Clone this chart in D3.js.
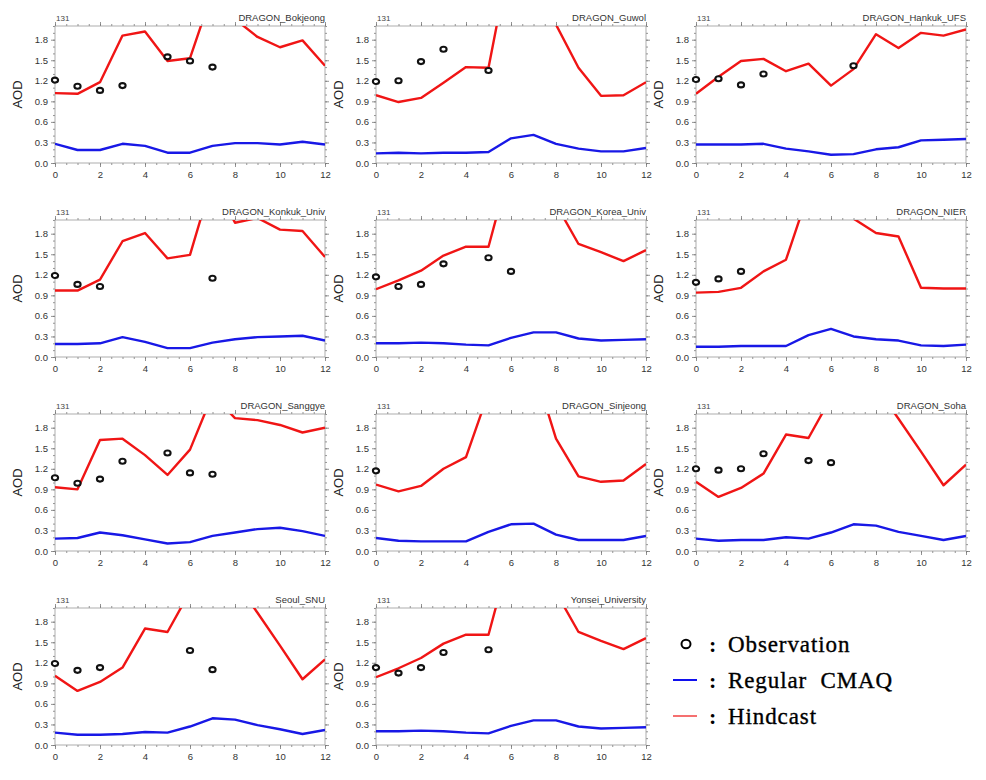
<!DOCTYPE html>
<html><head><meta charset="utf-8">
<script src="https://cdn.jsdelivr.net/npm/d3@7"></script>
<style>body{margin:0;background:#fff}svg{display:block}</style>
</head><body>
<svg id="chart" width="986" height="780"></svg>
<script>
const hours = [0,1,2,3,4,5,6,7,8,9,10,11,12];
const stations = ["DRAGON_Bokjeong","DRAGON_Guwol","DRAGON_Hankuk_UFS","DRAGON_Konkuk_Univ","DRAGON_Korea_Univ","DRAGON_NIER","DRAGON_Sanggye","DRAGON_Sinjeong","DRAGON_Soha","Seoul_SNU","Yonsei_University"];
const panelTag = "131";
const yTicks = [0.0,0.3,0.6,0.9,1.2,1.5,1.8];
const xTicks = [0,2,4,6,8,10,12];
const legendLabels = ["Observation","Regular  CMAQ","Hindcast"];

const observation = [
  [1.21,1.12,1.06,1.13,null,1.55,1.49,1.40,null,null,null,null,null],
  [1.19,1.20,1.48,1.66,null,1.35,null,null,null,null,null,null,null],
  [1.22,1.23,1.14,1.30,null,null,null,1.42,null,null,null,null,null],
  [1.19,1.06,1.03,null,null,null,null,1.15,null,null,null,null,null],
  [1.17,1.03,1.06,1.36,null,1.45,1.25,null,null,null,null,null,null],
  [1.09,1.14,1.25,null,null,null,null,null,null,null,null,null,null],
  [1.07,0.99,1.05,1.31,null,1.43,1.14,1.12,null,null,null,null,null],
  [1.17,null,null,null,null,null,null,null,null,null,null,null,null],
  [1.20,1.18,1.20,1.42,null,1.32,1.29,null,null,null,null,null,null],
  [1.19,1.09,1.13,null,null,null,1.38,1.10,null,null,null,null,null],
  [1.13,1.05,1.13,1.35,null,1.39,null,null,null,null,null,null,null]
];
const regularCMAQ = [
  [0.28,0.19,0.19,0.28,0.25,0.15,0.15,0.25,0.29,0.29,0.27,0.31,0.27],
  [0.14,0.15,0.14,0.15,0.15,0.16,0.36,0.41,0.28,0.21,0.17,0.17,0.22],
  [0.27,0.27,0.27,0.28,0.21,0.17,0.12,0.13,0.20,0.23,0.33,0.34,0.35],
  [0.19,0.19,0.20,0.29,0.22,0.13,0.13,0.21,0.26,0.29,0.30,0.31,0.24],
  [0.20,0.20,0.21,0.20,0.18,0.17,0.28,0.36,0.36,0.27,0.24,0.25,0.26],
  [0.15,0.15,0.16,0.16,0.16,0.32,0.41,0.30,0.26,0.24,0.17,0.16,0.18],
  [0.18,0.19,0.27,0.23,0.17,0.11,0.13,0.22,0.27,0.32,0.34,0.29,0.22],
  [0.19,0.15,0.14,0.14,0.14,0.28,0.39,0.40,0.24,0.16,0.16,0.16,0.22],
  [0.18,0.15,0.16,0.16,0.20,0.18,0.27,0.39,0.37,0.28,0.22,0.16,0.22],
  [0.18,0.15,0.15,0.16,0.19,0.18,0.27,0.39,0.37,0.29,0.23,0.16,0.22],
  [0.20,0.20,0.21,0.20,0.18,0.17,0.28,0.36,0.36,0.27,0.24,0.25,0.26]
];
const hindcast = [
  [1.02,1.01,1.18,1.86,1.92,1.49,1.53,2.50,2.10,1.84,1.69,1.79,1.42],
  [0.99,0.89,0.95,1.17,1.40,1.39,3.08,3.20,2.02,1.39,0.98,0.99,1.18],
  [1.01,1.26,1.49,1.52,1.34,1.45,1.13,1.37,1.88,1.68,1.90,1.86,1.95],
  [0.97,0.97,1.13,1.69,1.81,1.44,1.49,2.60,1.96,2.03,1.86,1.84,1.46],
  [0.99,1.12,1.26,1.48,1.61,1.61,2.83,3.00,2.23,1.65,1.53,1.40,1.56],
  [0.94,0.95,1.01,1.25,1.42,2.40,2.70,2.02,1.81,1.76,1.01,1.00,1.00],
  [0.93,0.90,1.62,1.64,1.40,1.11,1.48,2.28,1.94,1.91,1.84,1.73,1.80],
  [0.97,0.87,0.95,1.20,1.37,2.31,2.80,2.70,1.64,1.09,1.01,1.03,1.27],
  [1.01,0.79,0.92,1.13,1.70,1.65,2.24,2.60,2.40,1.93,1.45,0.96,1.26],
  [1.01,0.79,0.92,1.13,1.70,1.65,2.24,2.60,2.40,1.93,1.45,0.96,1.25],
  [0.99,1.12,1.27,1.48,1.61,1.61,2.83,3.00,2.23,1.65,1.52,1.40,1.56]
];

const svg = d3.select("#chart");
const colLeft = [55, 376, 696];
const rowTop = [26, 220, 414, 608];
const W = 270, H = 137;
const RED = "#f01515", BLUE = "#1818e6";
const sans = "'Liberation Sans', Arial, sans-serif";

const x = d3.scaleLinear().domain([0,12]).range([0,W]);
const y = d3.scaleLinear().domain([0,2.0]).range([H,0]);
const xMinor = d3.range(0,12.01,0.5);
const yMinor = d3.range(0,2.001,0.1).map(v=>+v.toFixed(2));

stations.forEach((name, i) => {
  const g = svg.append("g").attr("transform", `translate(${colLeft[i%3]},${rowTop[Math.floor(i/3)]})`);
  const clipId = "clip"+i;
  g.append("clipPath").attr("id", clipId).append("rect").attr("width", W).attr("height", H);

  const axB = d3.axisBottom(x).tickValues(xTicks).tickFormat(d3.format("d")).tickSizeInner(4).tickSizeOuter(0).tickPadding(4);
  const axBm = d3.axisBottom(x).tickValues(xMinor).tickFormat("").tickSizeInner(2).tickSizeOuter(0);
  const axT = d3.axisTop(x).tickValues(xTicks).tickFormat("").tickSizeInner(4).tickSizeOuter(0);
  const axTm = d3.axisTop(x).tickValues(xMinor).tickFormat("").tickSizeInner(2).tickSizeOuter(0);
  const axL = d3.axisLeft(y).tickValues(yTicks).tickFormat(d3.format(".1f")).tickSizeInner(4).tickSizeOuter(0).tickPadding(3);
  const axLm = d3.axisLeft(y).tickValues(yMinor).tickFormat("").tickSizeInner(2).tickSizeOuter(0);
  const axR = d3.axisRight(y).tickValues(yTicks).tickFormat("").tickSizeInner(4).tickSizeOuter(0);
  const axRm = d3.axisRight(y).tickValues(yMinor).tickFormat("").tickSizeInner(2).tickSizeOuter(0);

  const axes = [
    [axBm, `translate(0,${H})`],[axB, `translate(0,${H})`],
    [axTm, "translate(0,0)"],[axT, "translate(0,0)"],
    [axLm, "translate(0,0)"],[axL, "translate(0,0)"],
    [axRm, `translate(${W},0)`],[axR, `translate(${W},0)`]
  ];
  axes.forEach(([ax, tr]) => {
    const a = g.append("g").attr("transform", tr).call(ax);
    a.select(".domain").remove();
    a.selectAll("line").attr("stroke", "#777").attr("stroke-width", 0.8);
    a.selectAll("text").attr("fill", "#333").style("font-family", sans).style("font-size", "9.5px");
  });

  g.append("rect").attr("width", W).attr("height", H).attr("fill", "none").attr("stroke", "#999").attr("stroke-width", 0.8);

  const plot = g.append("g").attr("clip-path", `url(#${clipId})`);
  const line = d3.line().x((d,j)=>x(hours[j])).y(d=>y(d));

  plot.append("path").datum(regularCMAQ[i]).attr("d", line)
    .attr("fill","none").attr("stroke",BLUE).attr("stroke-width",2.4).attr("stroke-linejoin","round");
  plot.append("path").datum(hindcast[i]).attr("d", line)
    .attr("fill","none").attr("stroke",RED).attr("stroke-width",2.4).attr("stroke-linejoin","round");

  const obsPts = hours.map((h,j)=>({h, v: observation[i][j]})).filter(d=>d.v!==null);
  g.selectAll("ellipse.obs").data(obsPts).enter().append("ellipse").attr("class","obs")
    .attr("cx", d=>x(d.h)).attr("cy", d=>y(d.v)).attr("rx",3.1).attr("ry",2.5)
    .attr("fill","#fff").attr("stroke","#111").attr("stroke-width",2.1);

  g.append("text").attr("x", 1).attr("y", -5).text(panelTag)
    .style("font-family", sans).style("font-size","8px").attr("fill","#444");
  g.append("text").attr("x", W).attr("y", -5).attr("text-anchor","end").text(name)
    .style("font-family", sans).style("font-size","9.5px").attr("fill","#333");
  g.append("text").attr("transform", `translate(-33,${H/2}) rotate(-90)`).attr("text-anchor","middle")
    .text("AOD").style("font-family", sans).style("font-size","13px").attr("fill","#222");
});

// legend
const lg = svg.append("g");
const serif = "'Liberation Serif','Times New Roman',serif";
const lrows = [652, 688, 724];
lg.append("ellipse").attr("cx",686).attr("cy",644).attr("rx",4.5).attr("ry",4.2).attr("fill","none").attr("stroke","#000").attr("stroke-width",2);
lg.append("line").attr("x1",673).attr("x2",697).attr("y1",680).attr("y2",680).attr("stroke","#1010ee").attr("stroke-width",2);
lg.append("line").attr("x1",673).attr("x2",697).attr("y1",716).attr("y2",716).attr("stroke","#ee1010").attr("stroke-width",1.2);
legendLabels.forEach((t,k)=>{
  lg.append("text").attr("x",709).attr("y",lrows[k]).text(":")
    .style("font-family",serif).style("font-size","22px").style("font-weight","bold").attr("fill","#000");
  lg.append("text").attr("x",728).attr("y",lrows[k]).text(t).attr("xml:space","preserve").style("white-space","pre")
    .style("font-family",serif).style("font-size","23px").style("letter-spacing","0.9px")
    .attr("stroke","#000").attr("stroke-width",0.35).attr("fill","#000");
});
</script>
</body></html>
